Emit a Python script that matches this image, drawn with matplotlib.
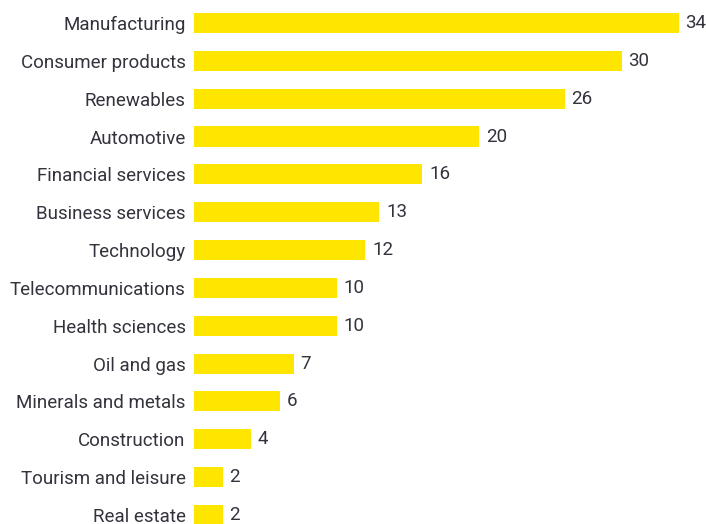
import matplotlib.pyplot as plt

sectors = [
    "Manufacturing",
    "Consumer products",
    "Renewables",
    "Automotive",
    "Financial services",
    "Business services",
    "Technology",
    "Telecommunications",
    "Health sciences",
    "Oil and gas",
    "Minerals and metals",
    "Construction",
    "Tourism and leisure",
    "Real estate",
]
counts = [34, 30, 26, 20, 16, 13, 12, 10, 10, 7, 6, 4, 2, 2]

bar_color = "#FFE600"
text_color = "#33333d"

plt.rcParams["font.family"] = ["Roboto", "DejaVu Sans"]

fig = plt.figure(figsize=(7.06, 5.24), dpi=100)
ax = fig.add_axes([194 / 706, 0, 513 / 706, 1])

y = list(range(len(sectors)))
bars = ax.barh(y, counts, height=0.53, color=bar_color)

ax.set_xlim(0, 36)
ax.set_ylim(13.24, -0.608)

ax.set_yticks(y)
ax.set_yticklabels(sectors, fontsize=13.5, color=text_color)
ax.tick_params(axis="y", length=0, pad=6)
ax.set_xticks([])

ax.bar_label(bars, labels=[str(c) for c in counts], padding=5,
             fontsize=13.5, color=text_color)

for side in ax.spines.values():
    side.set_visible(False)

fig.savefig("out.png", dpi=100)
